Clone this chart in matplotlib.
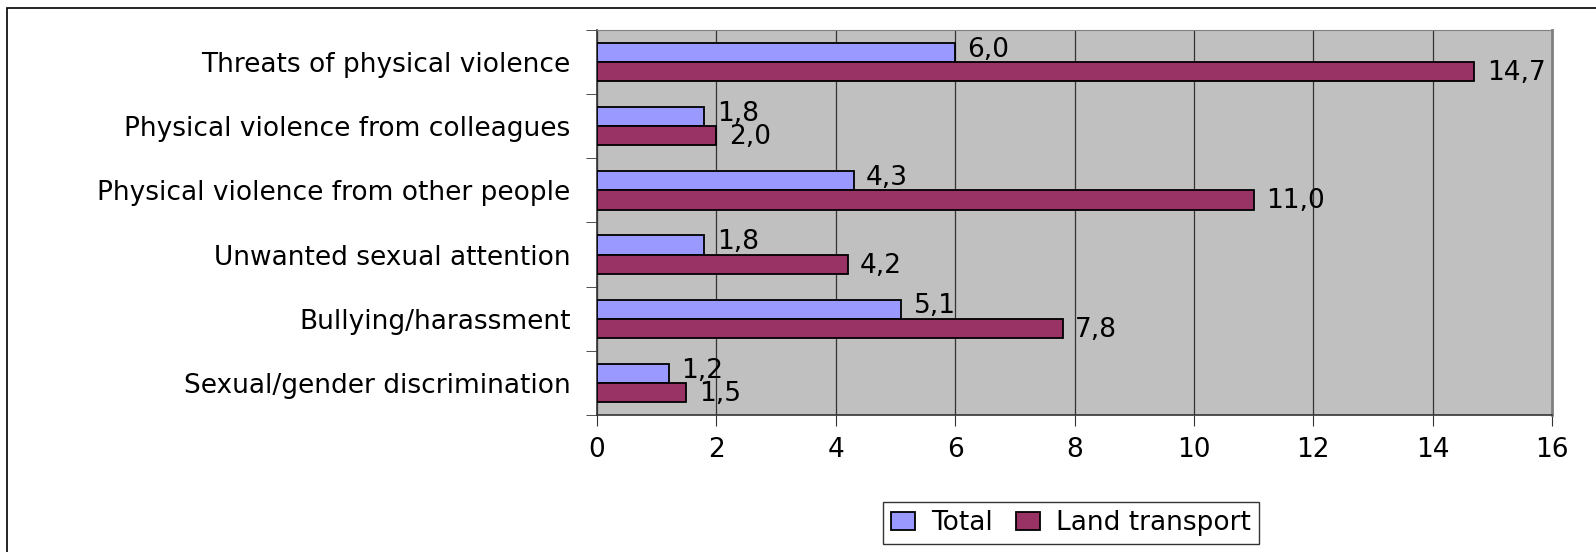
import numpy as np
import matplotlib.pyplot as plt
from matplotlib.patches import Rectangle

plt.rcParams['font.family'] = ['DejaVu Sans']

categories = ['Threats of physical violence',
              'Physical violence from colleagues',
              'Physical violence from other people',
              'Unwanted sexual attention',
              'Bullying/harassment',
              'Sexual/gender discrimination']
total = [6.0, 1.8, 4.3, 1.8, 5.1, 1.2]
land_transport = [14.7, 2.0, 11.0, 4.2, 7.8, 1.5]
x_ticks = [0, 2, 4, 6, 8, 10, 12, 14, 16]

fig = plt.figure(figsize=(15.96, 5.52), dpi=100)
ax = fig.add_axes([0.374, 0.248, 0.5985, 0.698])

# outer frame of the chart area (only left and top edges visible)
fig.patches.append(Rectangle((0.0044, -0.2), 1.2, 1.2 - 0.0145, transform=fig.transFigure,
                             fill=False, edgecolor='black', linewidth=1.2))

ax.set_facecolor('#C0C0C0')
y = np.arange(len(categories))
h = 0.3
b1 = ax.barh(y - h / 2, total, height=h, color='#9999FF', edgecolor='black',
             linewidth=1.3, label='Total', zorder=3)
b2 = ax.barh(y + h / 2, land_transport, height=h, color='#993366', edgecolor='black',
             linewidth=1.3, label='Land transport', zorder=3)

# value labels, Total slightly raised, Land transport slightly lowered
for bars, vals, dy in ((b1, total, 2), (b2, land_transport, -1)):
    for bar, v in zip(bars, vals):
        ax.annotate(f'{v:.1f}'.replace('.', ','),
                    xy=(bar.get_width(), bar.get_y() + bar.get_height() / 2),
                    xytext=(9, dy), textcoords='offset points',
                    ha='left', va='center', fontsize=19, zorder=4)

ax.set_xlim(0, 16)
ax.set_ylim(len(categories) - 0.5, -0.5)
ax.set_xticks(x_ticks)
ax.set_xticklabels([str(t) for t in x_ticks], fontsize=19)
ax.grid(axis='x', color='#333333', linewidth=0.9, zorder=1)

ax.set_yticks(y)
ax.set_yticklabels(categories, fontsize=19)
ax.tick_params(axis='y', which='major', length=0, pad=19)
ax.set_yticks(np.arange(len(categories) + 1) - 0.5, minor=True)
ax.tick_params(axis='y', which='minor', length=8, color='#333333')
ax.tick_params(axis='x', length=8, color='#333333', pad=8)

for side in ('left', 'bottom'):
    ax.spines[side].set_color('#333333')
    ax.spines[side].set_linewidth(1.2)
ax.spines['right'].set_color('#808080')
ax.spines['right'].set_linewidth(2)
ax.spines['top'].set_color('#808080')

ax.legend(loc='center', bbox_to_anchor=(0.6711, 0.0525), bbox_transform=fig.transFigure,
          ncol=2, fontsize=19, frameon=True, fancybox=False, edgecolor='black',
          handlelength=0.9, handleheight=0.7, handletextpad=0.6, columnspacing=0.9,
          borderpad=0.3)

fig.savefig('out.png', dpi=100)
